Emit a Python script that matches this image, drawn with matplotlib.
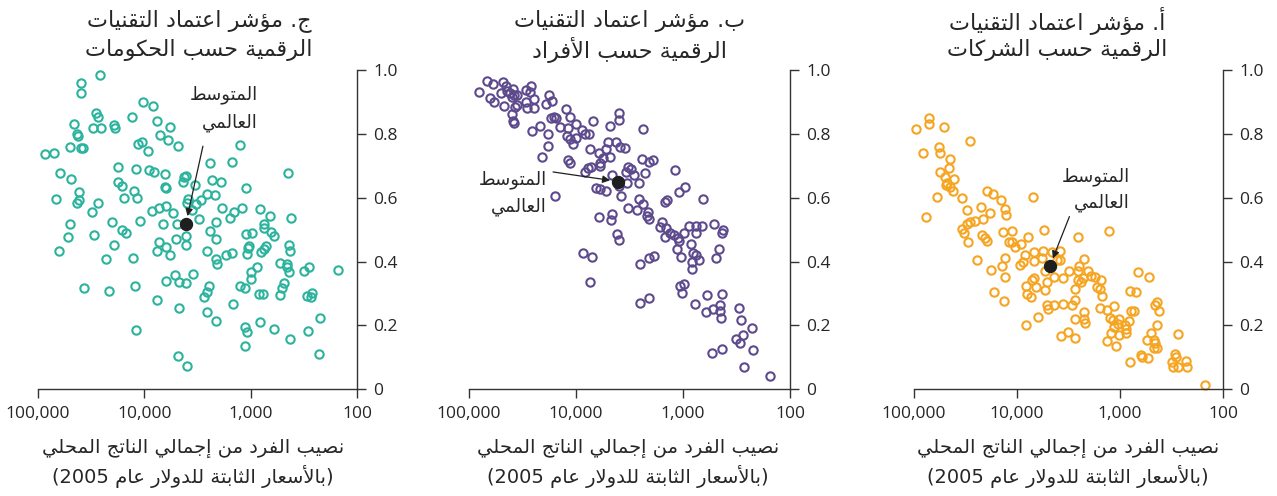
import re
import numpy as np
import matplotlib
matplotlib.use("Agg")
import matplotlib.pyplot as plt

# ---------------------------------------------------------------------------
# Data: digital adoption index vs GDP per capita (log10 of constant 2005 US$)
# ---------------------------------------------------------------------------
# Panel a: businesses
biz_log_gdp = [
    4.984, 4.857, 4.857, 4.710, 4.460, 4.759, 4.743, 4.909, 4.655, 4.665,
    4.749, 4.697, 4.616, 4.675, 4.694, 4.655, 4.626, 4.772, 4.538, 4.287,
    4.235, 4.151, 3.845, 4.483, 4.349, 4.258, 4.115, 4.102, 4.886, 4.330,
    4.408, 4.453, 4.489, 4.531, 4.518, 4.138, 4.050, 4.343, 4.310, 4.294,
    4.479, 3.741, 3.890, 3.412, 3.103, 4.082, 4.050, 3.962, 4.017,
    4.385, 4.121, 4.147, 4.255, 4.115, 4.219, 4.131, 3.968, 3.946, 3.920,
    3.832, 3.838, 3.757, 3.744, 3.659, 3.578, 3.578, 3.607, 3.724, 3.643,
    3.552, 3.497, 3.832, 3.855, 3.913, 3.903, 3.864, 3.812, 3.724, 3.708,
    3.796, 3.916, 3.708, 3.698, 3.637, 3.555, 3.464, 3.438, 3.441, 3.409,
    3.405, 3.396, 3.350, 3.376, 3.357, 3.314, 3.282, 3.246, 3.187, 3.226,
    3.197, 3.174, 3.347, 3.350, 3.344, 3.438, 3.194, 3.122, 3.054, 3.100,
    3.064, 3.008, 3.021, 3.054, 3.083, 3.008, 3.122, 3.041, 2.956, 2.937,
    2.943, 2.917, 2.898, 2.865, 3.571, 3.506, 3.435, 2.904, 2.846, 2.823,
    2.722, 2.660, 2.641, 2.618, 2.644, 2.699, 2.742, 2.667, 2.657, 2.667,
    2.644, 2.436, 2.901, 2.797, 2.790, 2.729, 2.498, 2.462, 2.455, 2.481,
    2.439, 2.358, 2.348, 2.179,
]
biz_index = [
    0.815, 0.849, 0.831, 0.821, 0.779, 0.760, 0.740, 0.742, 0.722, 0.695,
    0.682, 0.666, 0.659, 0.647, 0.640, 0.634, 0.621, 0.601, 0.600, 0.621,
    0.611, 0.594, 0.601, 0.561, 0.571, 0.552, 0.566, 0.545, 0.541, 0.532,
    0.528, 0.525, 0.517, 0.501, 0.488, 0.494, 0.495, 0.483, 0.473, 0.464,
    0.460, 0.498, 0.478, 0.478, 0.496, 0.462, 0.462, 0.454, 0.447,
    0.406, 0.411, 0.385, 0.372, 0.351, 0.303, 0.275, 0.390, 0.397, 0.422,
    0.401, 0.430, 0.411, 0.432, 0.430, 0.432, 0.406, 0.406, 0.369, 0.351,
    0.348, 0.371, 0.348, 0.343, 0.322, 0.298, 0.289, 0.319, 0.312, 0.336,
    0.225, 0.200, 0.265, 0.251, 0.263, 0.267, 0.263, 0.278, 0.315, 0.343,
    0.369, 0.385, 0.409, 0.336, 0.348, 0.371, 0.354, 0.351, 0.343, 0.320,
    0.315, 0.291, 0.242, 0.221, 0.206, 0.221, 0.254, 0.249, 0.262, 0.223,
    0.215, 0.221, 0.204, 0.194, 0.176, 0.171, 0.150, 0.134, 0.202, 0.189,
    0.176, 0.212, 0.244, 0.244, 0.167, 0.178, 0.159, 0.306, 0.304, 0.367,
    0.350, 0.265, 0.273, 0.245, 0.200, 0.176, 0.154, 0.155, 0.143, 0.129,
    0.129, 0.174, 0.085, 0.108, 0.099, 0.097, 0.084, 0.110, 0.100, 0.069,
    0.070, 0.087, 0.068, 0.012,
]

# Panel b: people
ppl_log_gdp = [
    4.904, 4.832, 4.773, 4.686, 4.658, 4.807, 4.767, 4.702, 4.643, 4.621,
    4.587, 4.580, 4.549, 4.602, 4.670, 4.571, 4.552, 4.468, 4.416, 4.431,
    4.468, 4.459, 4.397, 4.388, 4.602, 4.587, 4.580, 4.282, 4.254, 4.223,
    4.095, 4.058, 4.235, 4.204, 4.186, 4.341, 4.412, 4.266, 4.151, 4.071,
    4.002, 3.943, 3.915, 3.878, 4.086, 4.058, 4.027, 3.999, 3.841, 3.682,
    3.601, 3.595, 3.374, 4.266, 4.316, 4.071, 4.058, 3.869, 3.788, 3.750,
    3.679, 3.701, 3.626, 3.586, 3.539, 3.716, 3.380, 3.318, 3.278, 3.772,
    3.778, 3.859, 3.912, 3.887, 3.666, 3.514, 3.489, 3.533, 3.461, 3.356,
    3.079, 3.408, 3.527, 3.598, 3.809, 3.778, 3.722, 4.198, 3.579, 3.408,
    3.374, 3.517, 3.433, 3.331, 3.318, 3.340, 3.788, 3.666, 3.670, 3.172,
    3.154, 3.039, 2.983, 2.809, 3.200, 3.219, 3.157, 2.948, 2.880, 2.821,
    2.709, 2.625,
    3.617, 3.601, 3.931, 3.853, 3.869, 3.405, 3.318, 3.272, 3.405, 3.318,
    3.169, 3.119, 3.085, 3.048, 3.039, 3.054, 3.017, 2.989, 2.924, 2.911,
    2.883, 2.917, 2.852, 2.920, 2.874, 2.634, 2.659, 2.693, 3.032, 2.989,
    3.014, 2.886, 2.777, 2.638, 2.784, 2.718, 2.656, 2.653, 2.641, 2.473,
    2.454, 2.358, 2.435, 2.501, 2.470, 2.725, 2.638, 2.348, 2.432, 2.187,
]
ppl_index = [
    0.933, 0.967, 0.958, 0.962, 0.952, 0.913, 0.899, 0.928, 0.935, 0.928,
    0.941, 0.921, 0.923, 0.915, 0.889, 0.886, 0.891, 0.937, 0.952, 0.931,
    0.902, 0.881, 0.910, 0.881, 0.863, 0.841, 0.836, 0.895, 0.923, 0.903,
    0.878, 0.854, 0.851, 0.855, 0.849, 0.824, 0.811, 0.800, 0.823, 0.818,
    0.831, 0.813, 0.801, 0.799, 0.795, 0.785, 0.768, 0.789, 0.841, 0.825,
    0.843, 0.865, 0.816, 0.762, 0.727, 0.717, 0.710, 0.752, 0.742, 0.726,
    0.727, 0.774, 0.776, 0.760, 0.757, 0.753, 0.722, 0.711, 0.718, 0.708,
    0.700, 0.698, 0.680, 0.695, 0.671, 0.698, 0.689, 0.682, 0.673, 0.679,
    0.686, 0.645, 0.647, 0.636, 0.632, 0.627, 0.621, 0.607, 0.605, 0.596,
    0.579, 0.569, 0.562, 0.556, 0.532, 0.544, 0.541, 0.549, 0.529, 0.588,
    0.592, 0.617, 0.635, 0.597, 0.525, 0.509, 0.504, 0.513, 0.513, 0.512,
    0.519, 0.499,
    0.485, 0.469, 0.428, 0.413, 0.337, 0.393, 0.411, 0.418, 0.270, 0.285,
    0.477, 0.491, 0.484, 0.474, 0.463, 0.438, 0.414, 0.491, 0.454, 0.428,
    0.419, 0.399, 0.405, 0.376, 0.491, 0.488, 0.438, 0.411, 0.322, 0.330,
    0.300, 0.266, 0.296, 0.298, 0.242, 0.251, 0.265, 0.246, 0.222, 0.254,
    0.215, 0.190, 0.168, 0.157, 0.143, 0.114, 0.126, 0.122, 0.069, 0.040,
]

# Panel c: governments
gov_log_gdp = [
    4.414, 4.599, 4.596, 4.009, 3.922, 4.455, 4.433, 4.113, 3.884, 4.661,
    4.285, 4.480, 4.408, 4.273, 3.762, 4.636, 4.627, 3.850, 3.781, 4.019,
    4.063, 3.680, 3.097, 4.699, 4.599, 4.574, 4.931, 4.850, 3.962, 3.386,
    3.176, 4.245, 4.082, 3.956, 3.906, 3.806, 4.796, 2.649, 4.690, 3.605,
    3.627, 3.364, 3.282, 4.251, 4.213, 3.639, 3.806, 3.799, 3.527, 3.047,
    4.094, 4.618, 4.069, 4.194, 4.831, 4.611, 4.636, 3.408, 3.332, 3.586,
    3.596, 3.470, 4.433, 3.517, 3.928, 3.862, 3.799, 3.727, 4.489, 3.273,
    3.160, 3.082, 2.915, 3.194, 2.818, 2.618, 4.702, 4.304, 4.041, 3.828,
    3.489, 3.323, 3.552, 2.878, 3.690,
    4.721, 4.476, 4.213, 4.172, 4.806, 4.285, 4.364, 4.107, 3.865, 3.878,
    3.796, 3.755, 3.702, 3.605, 3.608, 3.382, 3.326, 3.411, 3.326, 3.320,
    3.229, 3.172, 3.041, 2.984, 3.013, 3.028, 3.038, 2.878, 2.809, 2.781,
    2.906, 2.875, 2.853, 2.639, 2.627, 2.727, 2.655, 2.655, 2.639, 2.495,
    2.448, 2.182, 2.944, 2.994, 2.994, 3.539, 3.712, 3.796, 3.677, 3.608,
    4.567, 4.335, 4.088, 3.878, 3.677, 3.389, 3.411, 3.439, 3.414, 3.329,
    3.169, 3.103, 3.053, 2.925, 2.884, 2.721, 2.705, 2.690, 2.467, 2.436,
    2.426, 2.912, 3.053, 3.034, 2.781, 3.056, 2.633, 2.464, 2.345, 2.354,
    4.075, 3.683, 3.602,
]
gov_index = [
    0.985, 0.959, 0.930, 0.900, 0.887, 0.867, 0.854, 0.854, 0.841, 0.831,
    0.828, 0.820, 0.819, 0.818, 0.821, 0.799, 0.795, 0.797, 0.782, 0.774,
    0.768, 0.763, 0.765, 0.760, 0.756, 0.756, 0.737, 0.741, 0.747, 0.710,
    0.713, 0.696, 0.689, 0.688, 0.682, 0.675, 0.677, 0.677, 0.659, 0.669,
    0.664, 0.656, 0.650, 0.649, 0.638, 0.649, 0.634, 0.630, 0.640, 0.632,
    0.621, 0.617, 0.598, 0.600, 0.596, 0.594, 0.585, 0.611, 0.609, 0.595,
    0.584, 0.594, 0.584, 0.582, 0.560, 0.569, 0.573, 0.552, 0.554, 0.567,
    0.556, 0.567, 0.564, 0.538, 0.544, 0.535, 0.518, 0.525, 0.527, 0.519,
    0.532, 0.524, 0.563, 0.519, 0.517,
    0.476, 0.484, 0.499, 0.491, 0.433, 0.453, 0.408, 0.412, 0.460, 0.432,
    0.444, 0.421, 0.472, 0.480, 0.453, 0.496, 0.471, 0.434, 0.407, 0.392,
    0.422, 0.426, 0.485, 0.488, 0.449, 0.442, 0.425, 0.505, 0.494, 0.480,
    0.430, 0.438, 0.449, 0.453, 0.434, 0.396, 0.393, 0.384, 0.367, 0.369,
    0.383, 0.374, 0.384, 0.367, 0.344, 0.362, 0.358, 0.340, 0.335, 0.333,
    0.318, 0.309, 0.324, 0.278, 0.254, 0.323, 0.304, 0.290, 0.241, 0.212,
    0.266, 0.324, 0.317, 0.297, 0.297, 0.296, 0.316, 0.333, 0.292, 0.289,
    0.300, 0.210, 0.195, 0.178, 0.188, 0.135, 0.156, 0.183, 0.223, 0.111,
    0.185, 0.103, 0.072,
]

# World averages (businesses, people, governments)
mean_log_gdp = [3.682, 3.604, 3.611]
mean_index = [0.385, 0.651, 0.517]

panel_titles = [
    ("أ. مؤشر اعتماد التقنيات", "الرقمية حسب الشركات"),
    ("ب. مؤشر اعتماد التقنيات", "الرقمية حسب الأفراد"),
    ("ج. مؤشر اعتماد التقنيات", "الرقمية حسب الحكومات"),
]
mean_label = ("المتوسط", "العالمي")
xlabel_lines = ("نصيب الفرد من إجمالي الناتج المحلي",
                "(بالأسعار الثابتة للدولار عام 2005)")
x_ticks = [100000, 10000, 1000, 100]
x_ticklabels = ["100,000", "10,000", "1,000", "100"]
y_ticks = [0, 0.2, 0.4, 0.6, 0.8, 1.0]
y_ticklabels = ["0", "0.2", "0.4", "0.6", "0.8", "1.0"]
colors = ["#F6A523", "#5D4A8D", "#2BB39E"]

# ---------------------------------------------------------------------------
# Minimal Arabic shaping (contextual presentation forms + visual ordering)
# ---------------------------------------------------------------------------
DUAL = {0x0626: 0xFE89, 0x0628: 0xFE8F, 0x062A: 0xFE95, 0x062B: 0xFE99,
        0x062C: 0xFE9D, 0x062D: 0xFEA1, 0x062E: 0xFEA5, 0x0633: 0xFEB1,
        0x0634: 0xFEB5, 0x0635: 0xFEB9, 0x0636: 0xFEBD, 0x0637: 0xFEC1,
        0x0638: 0xFEC5, 0x0639: 0xFEC9, 0x063A: 0xFECD, 0x0641: 0xFED1,
        0x0642: 0xFED5, 0x0643: 0xFED9, 0x0644: 0xFEDD, 0x0645: 0xFEE1,
        0x0646: 0xFEE5, 0x0647: 0xFEE9, 0x064A: 0xFEF1}
RIGHT = {0x0622: 0xFE81, 0x0623: 0xFE83, 0x0624: 0xFE85, 0x0625: 0xFE87,
         0x0627: 0xFE8D, 0x0629: 0xFE93, 0x062F: 0xFEA9, 0x0630: 0xFEAB,
         0x0631: 0xFEAD, 0x0632: 0xFEAF, 0x0648: 0xFEED, 0x0649: 0xFEEF}
LAM_ALEF = {0x0622: 0xFEF5, 0x0623: 0xFEF7, 0x0625: 0xFEF9, 0x0627: 0xFEFB}


def ar(text):
    tokens = []
    i = 0
    while i < len(text):
        c = ord(text[i])
        if c == 0x0644 and i + 1 < len(text) and ord(text[i + 1]) in LAM_ALEF:
            tokens.append(("LA", ord(text[i + 1])))
            i += 2
        else:
            tokens.append(("C", c))
            i += 1

    def joins_prev(t):
        return t[0] == "LA" or t[1] in DUAL or t[1] in RIGHT

    def joins_next(t):
        return t[0] == "C" and t[1] in DUAL

    out = []
    for k, t in enumerate(tokens):
        p = k > 0 and joins_next(tokens[k - 1]) and joins_prev(t)
        n = k + 1 < len(tokens) and joins_next(t) and joins_prev(tokens[k + 1])
        if t[0] == "LA":
            out.append(chr(LAM_ALEF[t[1]] + (1 if p else 0)))
        elif t[1] in DUAL:
            off = 3 if (p and n) else 1 if p else 2 if n else 0
            out.append(chr(DUAL[t[1]] + off))
        elif t[1] in RIGHT:
            out.append(chr(RIGHT[t[1]] + (1 if p else 0)))
        else:
            out.append(chr(t[1]))
    vis = "".join(reversed(out))
    vis = re.sub(r"[0-9]+", lambda m: m.group(0)[::-1], vis)
    return vis.translate(str.maketrans("()", ")("))


# ---------------------------------------------------------------------------
TXT = "#262626"
AR_FONT = ["DejaVu Sans"]
NUM_FONT = ["Open Sans", "DejaVu Sans"]

fig = plt.figure(figsize=(12.77, 4.96), dpi=100)

W, H = 1277.0, 496.0
# panel x extents in pixels (a, b, c) and shared vertical extent
ax_px = [(914, 1223), (469, 790), (38, 357)]
y_bottom_px, y_top_px = 389.0, 70.3
title_cx = [1057, 630, 199]
title_rows = (21, 50)
xlabel_cx = [1068, 628, 193]
xlabel_rows = (448, 477)
# world-average label: right edge (axes fraction) and two row centres
label_x = [0.699, 0.243, 0.690]
label_rows = [(0.665, 0.584), (0.656, 0.571), (0.922, 0.835)]
arrow_tail = [(0.503, 0.541), (0.262, 0.681), (0.517, 0.762)]

series = [(biz_log_gdp, biz_index), (ppl_log_gdp, ppl_index), (gov_log_gdp, gov_index)]

for i in range(3):
    l, r = ax_px[i]
    ax = fig.add_axes([l / W, (H - y_bottom_px) / H, (r - l) / W,
                       (y_bottom_px - y_top_px) / H])
    gx, gy = series[i]
    ax.plot(10 ** np.asarray(gx), gy, linestyle="none", marker="o",
            markersize=6.0, markerfacecolor="none", markeredgecolor=colors[i],
            markeredgewidth=1.5, clip_on=False, zorder=2)
    mx, my = 10 ** mean_log_gdp[i], mean_index[i]
    ax.plot([mx], [my], marker="o", markersize=8.6, color="#1f1f1f",
            linestyle="none", zorder=4, clip_on=False)

    ax.set_xscale("log")
    ax.set_xlim(1e5, 1e2)
    ax.set_ylim(0, 1)
    ax.set_xticks(x_ticks)
    ax.set_xticklabels(x_ticklabels)
    ax.minorticks_off()
    ax.set_yticks(y_ticks)
    ax.set_yticklabels(y_ticklabels)
    ax.yaxis.tick_right()
    for s in ("left", "top"):
        ax.spines[s].set_visible(False)
    for s in ("right", "bottom"):
        ax.spines[s].set_color("#333333")
        ax.spines[s].set_linewidth(1.0)
    ax.tick_params(axis="both", length=6.5, width=1.0, color="#333333",
                   labelcolor=TXT, labelsize=12.5)
    ax.tick_params(axis="x", pad=6)
    ax.tick_params(axis="y", pad=5)
    for lab in ax.get_xticklabels() + ax.get_yticklabels():
        lab.set_fontfamily(NUM_FONT)
    ax.patch.set_visible(False)

    # world-average annotation
    for line, yy in zip(mean_label, label_rows[i]):
        ax.text(label_x[i], yy, ar(line), transform=ax.transAxes,
                ha="right", va="center", fontsize=13, color=TXT,
                family=AR_FONT)
    ax.annotate("", xy=(mx, my), xycoords="data", xytext=arrow_tail[i],
                textcoords="axes fraction",
                arrowprops=dict(arrowstyle="-|>", color="#1f1f1f", lw=0.9,
                                mutation_scale=11, shrinkA=0, shrinkB=6))

    # panel title and x-axis caption, one row at a time
    for line, row in zip(panel_titles[i], title_rows):
        fig.text(title_cx[i] / W, 1 - row / H, ar(line), ha="center",
                 va="center", fontsize=16, color=TXT, family=AR_FONT)
    for line, row in zip(xlabel_lines, xlabel_rows):
        fig.text(xlabel_cx[i] / W, 1 - row / H, ar(line), ha="center",
                 va="center", fontsize=14, color=TXT, family=AR_FONT)

fig.savefig("out.png", dpi=100)
